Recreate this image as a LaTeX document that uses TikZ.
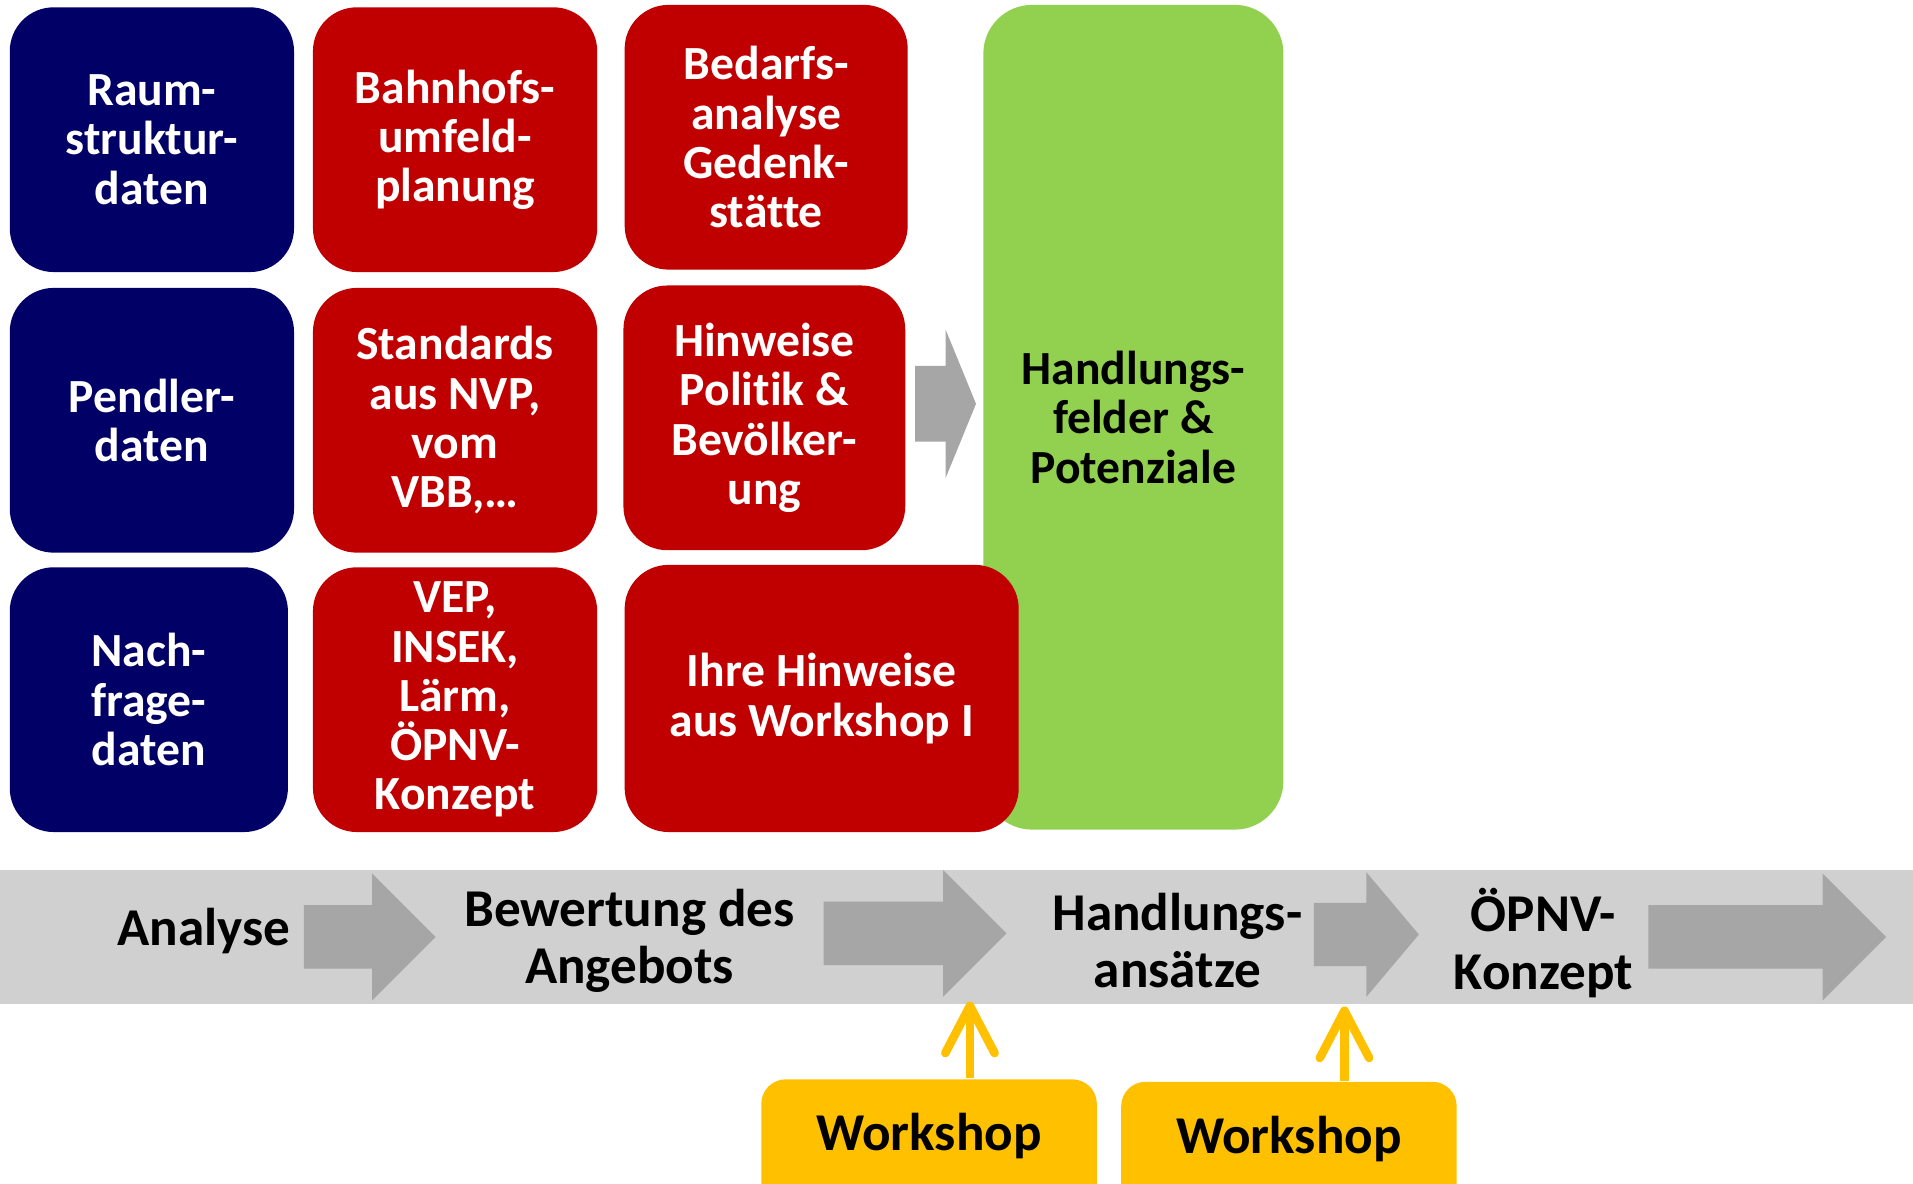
\documentclass[tikz,border=0pt]{standalone}
\usepackage{fontspec}
\setmainfont{Carlito}[Ligatures=NoCommon]
\usepackage{xcolor}
\usetikzlibrary{arrows.meta,calc}

\definecolor{navyblue}{HTML}{000066}
\definecolor{darkred}{HTML}{C00000}
\definecolor{lightgreen}{HTML}{92D050}
\definecolor{wsyellow}{HTML}{FFC000}
\definecolor{bandgray}{HTML}{D0D0D0}
\definecolor{arrowgray}{HTML}{A6A6A6}

% shaft start, head start, tip, centre y, half shaft, half head
\newcommand{\blockarrow}[6]{%
  \fill[arrowgray] (#1,{#4-#5}) -- (#2,{#4-#5}) -- (#2,{#4-#6}) -- (#3,#4)
    -- (#2,{#4+#6}) -- (#2,{#4+#5}) -- (#1,{#4+#5}) -- cycle;}

\begin{document}
\begin{tikzpicture}[x=0.1mm, y=-0.1mm,
    box/.style={rounded corners=3.6mm, inner sep=0pt, minimum width=23.3mm,
      minimum height=21.7mm, align=center, text=white,
      font=\fontsize{11.1}{11.5}\selectfont\bfseries},
    navybox/.style={box, fill=navyblue},
    redbox/.style={box, fill=darkred},
    greenbox/.style={box, fill=lightgreen, text=black, rounded corners=4mm},
    steplabel/.style={align=center, font=\fontsize{12.4}{13.4}\selectfont\bfseries},
    wsbox/.style={fill=wsyellow, rounded corners=2mm, minimum width=27.5mm,
      anchor=north, inner ysep=0pt, text height=16.7pt, text depth=30pt,
      font=\fontsize{12.4}{13.4}\selectfont\bfseries},
    wsarrow/.style={draw=wsyellow, line width=2pt,
      -{Straight Barb[length=11pt,width=11.5pt,round]}}]
    \useasboundingbox (0,0) rectangle (1568,970);

    % data boxes
    \node[navybox] (raum) at (124.5,114.5) {Raum-\\struktur-\\daten};
    \node[navybox] (pendler) at (124.5,344.5) {Pendler-\\daten};
    \node[navybox, minimum width=22.8mm] (nachfrage) at (122,573.5) {Nach-\\frage-\\daten};

    \node[redbox] (bahnhof) at (373,114.5) {Bahnhofs-\\umfeld-\\planung};
    \node[redbox] (standards) at (373,344.5) {Standards\\aus NVP,\\vom\\VBB,\dots};
    \node[redbox] (vep) at (373,573.5) {VEP,\\INSEK,\\Lärm,\\ÖPNV-\\Konzept};

    \node[redbox, minimum width=23.2mm] (bedarf) at (628,112.5) {Bedarfs-\\analyse\\Gedenk-\\stätte};
    \node[redbox, minimum width=23.1mm] (hinweise) at (626.5,342.5) {Hinweise\\Politik \&\\Bevölker-\\ung};

    \node[greenbox, minimum width=24.6mm, minimum height=67.6mm] (felder) at (929,342) {Handlungs-\\felder \&\\Potenziale};
    \node[redbox, minimum width=32.3mm, minimum height=21.9mm] (workshopI) at (673.5,572.5) {Ihre Hinweise\\aus Workshop I};

    \blockarrow{750}{775}{800}{331}{31}{61}

    % process band
    \fill[bandgray] (0,713) rectangle (1568,823);
    \blockarrow{249}{305}{357}{768}{26}{52}
    \blockarrow{675}{773}{825}{765}{26}{52}
    \blockarrow{1077}{1120}{1163}{766}{26}{51}
    \blockarrow{1351}{1494}{1546}{768}{26}{52}

    \node[steplabel] (analyse) at (167,763) {Analyse};
    \node[steplabel] (bewertung) at (516,771) {Bewertung des\\Angebots};
    \node[steplabel] (ansaetze) at (965,771) {Handlungs-\\ansätze};
    \node[steplabel] (konzept) at (1265,773) {ÖPNV-\\Konzept};

    % workshops
    \node[wsbox] (ws1) at (761.5,884) {Workshop};
    \node[wsbox] (ws2) at (1056.5,886) {Workshop};
    \coordinate (in1) at (795,821);
    \coordinate (in2) at (1102,825);
    \draw[wsarrow] (ws1.north -| in1) -- (in1);
    \draw[wsarrow] (ws2.north -| in2) -- (in2);
\end{tikzpicture}
\end{document}
